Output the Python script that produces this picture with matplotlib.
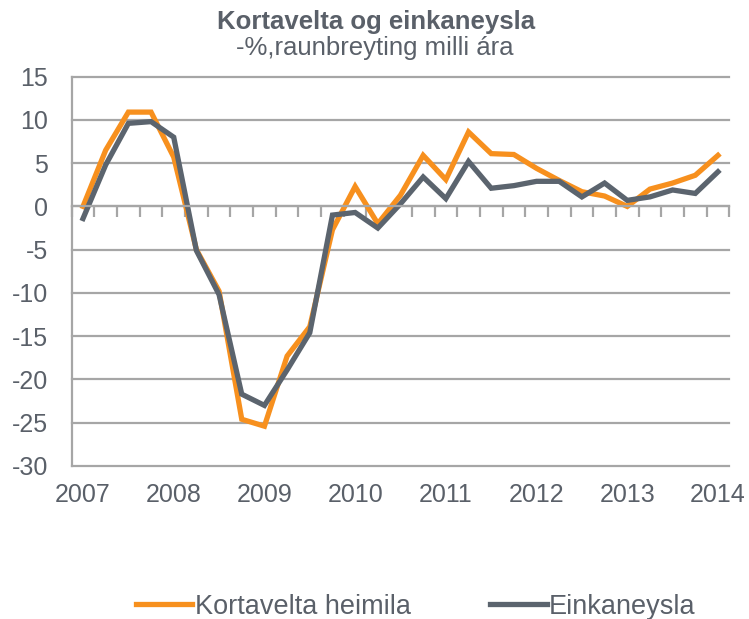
import matplotlib.pyplot as plt
from matplotlib.ticker import FixedLocator

plt.rcParams["font.family"] = ["Liberation Sans", "DejaVu Sans"]
plt.rcParams["axes.unicode_minus"] = False

years = ["2007", "2008", "2009", "2010", "2011", "2012", "2013", "2014"]
# quarterly values 2007Q1 .. 2014Q1
kortavelta = [0.0, 6.5, 10.9, 10.9, 5.7, -5.0, -9.8, -24.6, -25.4, -17.3,
              -13.9, -2.7, 2.3, -2.0, 1.3, 5.9, 3.1, 8.6, 6.1, 6.0,
              4.4, 3.0, 1.7, 1.2, 0.0, 2.0, 2.7, 3.6, 5.9]
einkaneysla = [-1.4, 4.8, 9.6, 9.8, 8.0, -5.1, -10.2, -21.7, -23.0, -18.9,
               -14.6, -1.0, -0.7, -2.5, 0.3, 3.4, 0.9, 5.2, 2.1, 2.4,
               2.9, 2.9, 1.1, 2.7, 0.7, 1.1, 1.9, 1.5, 4.0]

orange = "#F7901E"
slate = "#5B646E"
grid_c = "#A6A6A6"
text_c = "#5A6069"

fig = plt.figure(figsize=(7.49, 6.19), dpi=100)
ax = fig.add_axes([0.0957, 0.2472, 0.878, 0.629])

x = list(range(len(kortavelta)))
ax.plot(x, kortavelta, color=orange, lw=3.8, label="Kortavelta heimila",
        solid_joinstyle="miter")
ax.plot(x, einkaneysla, color=slate, lw=3.8, label="Einkaneysla",
        solid_joinstyle="miter")

ax.set_xlim(-0.5, len(x) - 0.5)
ax.set_ylim(-30, 15)
ax.set_yticks(range(-30, 16, 5))
ax.yaxis.grid(True, color=grid_c, lw=1.6)
for gl in ax.get_ygridlines():
    gl.set_clip_on(False)
ax.set_axisbelow(True)
ax.tick_params(axis="y", length=0, pad=17, labelsize=18, labelcolor=text_c)

for s in ["top", "right"]:
    ax.spines[s].set_visible(False)
ax.spines["left"].set_color(grid_c)
ax.spines["left"].set_linewidth(1.6)
ax.spines["bottom"].set_position(("data", 0))
ax.spines["bottom"].set_color(grid_c)
ax.spines["bottom"].set_linewidth(1.6)

# category boundaries as tick marks on the zero line
ax.xaxis.set_major_locator(FixedLocator([i - 0.5 for i in range(len(x) + 1)]))
ax.tick_params(axis="x", direction="out", length=8, width=1.6,
               color=grid_c, labelbottom=False)

sec = ax.secondary_xaxis(0)
sec.set_xticks([i * 4 for i in range(len(years))], years)
sec.tick_params(length=0, pad=12, labelsize=18, labelcolor=text_c)
sec.spines["bottom"].set_visible(False)

fig.text(0.502, 0.9645, "Kortavelta og einkaneysla", ha="center", va="center",
         fontsize=18.5, fontweight="bold", color=text_c)
fig.text(0.501, 0.9225, "-%,raunbreyting milli ára", ha="center", va="center",
         fontsize=18.5, color=text_c)

leg = fig.legend(loc="center", bbox_to_anchor=(0.555, 0.02), ncol=2,
                 frameon=False, fontsize=19.5, handlelength=2.1,
                 handletextpad=0.1, columnspacing=2.9)
for t in leg.get_texts():
    t.set_color(text_c)

fig.savefig("out.png", dpi=100)
